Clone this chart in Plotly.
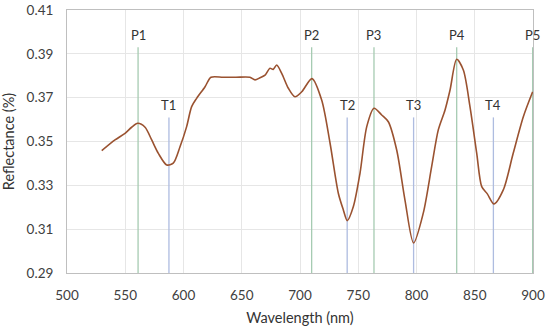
import plotly.graph_objects as go

wavelength = [529.8, 541.2, 549.8, 555.5, 560.7, 567.0, 572.7, 578.4, 585.6, 591.2, 597.0,
              602.7, 607.0, 611.3, 618.5, 623.6, 634.0, 645.0, 657.0, 661.4, 665.7, 670.0,
              674.2, 677.0, 680.0, 684.3, 690.0, 695.7, 701.5, 710.3, 718.6, 725.8, 732.9,
              737.2, 740.6, 745.8, 751.5, 757.3, 763.5, 770.1, 775.8, 783.0, 790.1, 797.5,
              805.8, 813.0, 818.7, 824.5, 828.8, 834.5, 840.2, 845.9, 851.7, 856.0, 860.8,
              866.5, 874.5, 883.0, 891.7, 899.7]
reflectance = [0.3458, 0.3507, 0.3537, 0.3565, 0.3583, 0.3565, 0.3507, 0.3446, 0.3393, 0.3401, 0.3476,
               0.3568, 0.3659, 0.3697, 0.3750, 0.3793, 0.3793, 0.3793, 0.3793, 0.3781, 0.3791, 0.3803,
               0.3834, 0.3829, 0.3849, 0.3811, 0.3743, 0.3704, 0.3727, 0.3787, 0.3689, 0.3492, 0.3264,
               0.3188, 0.3139, 0.3203, 0.3355, 0.3568, 0.3652, 0.3621, 0.3590, 0.3461, 0.3233, 0.3037,
               0.3173, 0.3385, 0.3553, 0.3644, 0.3735, 0.3875, 0.3826, 0.3659, 0.3446, 0.3294, 0.3261,
               0.3215, 0.3279, 0.3446, 0.3613, 0.3727]

peak_labels = ["P1", "P2", "P3", "P4", "P5"]
peak_x = [561, 710, 763.5, 834.5, 899.7]
trough_labels = ["T1", "T2", "T3", "T4"]
trough_x = [587.5, 740.5, 797.5, 866]
peak_top = 0.393
trough_top = 0.361
y_bottom = 0.29

fig = go.Figure()

for x in peak_x:
    fig.add_trace(go.Scatter(x=[x, x], y=[y_bottom, peak_top], mode="lines",
                             line=dict(color="#A6CBB2", width=1.3), showlegend=False, hoverinfo="skip"))
for x in trough_x:
    fig.add_trace(go.Scatter(x=[x, x], y=[y_bottom, trough_top], mode="lines",
                             line=dict(color="#AEBCE0", width=1.3), showlegend=False, hoverinfo="skip"))

fig.add_trace(go.Scatter(x=wavelength, y=reflectance, mode="lines",
                         line=dict(color="#9A5230", width=1.6, shape="spline", smoothing=0.8),
                         showlegend=False))

for lab, x in zip(peak_labels, peak_x):
    fig.add_annotation(x=x, y=peak_top, text=lab, showarrow=False, yanchor="bottom",
                       yshift=2, font=dict(size=13, color="#333333"))
for lab, x in zip(trough_labels, trough_x):
    fig.add_annotation(x=x, y=trough_top, text=lab, showarrow=False, yanchor="bottom",
                       yshift=2, font=dict(size=13, color="#333333"))

fig.update_layout(
    width=550, height=328,
    margin=dict(l=67, r=17, t=10, b=55),
    plot_bgcolor="white", paper_bgcolor="white",
    font=dict(family="Lato, Open Sans, sans-serif", size=13, color="#404040"),
    xaxis=dict(range=[500, 900], dtick=50, tick0=500, showgrid=True, gridcolor="#E6E6E6",
               showline=True, linecolor="#BFBFBF", mirror=True, zeroline=False, ticks="",
               automargin=False, ticklabelstandoff=10,
               title=dict(text="Wavelength (nm)", font=dict(size=14.5, color="#333333"), standoff=10),
               tickfont=dict(size=13.5, color="#404040")),
    yaxis=dict(range=[0.29, 0.41], dtick=0.02, tick0=0.29, showgrid=True, gridcolor="#E6E6E6",
               showline=True, linecolor="#BFBFBF", mirror=True, zeroline=False, ticks="",
               tickformat=".2f", ticklabelstandoff=10, automargin=False,
               title=dict(text="Reflectance (%)", font=dict(size=14.5, color="#333333"), standoff=8),
               tickfont=dict(size=13.5, color="#404040")),
)

fig.write_html("out.html", config={"displayModeBar": False},
               post_script="document.body.style.margin='0px';")
